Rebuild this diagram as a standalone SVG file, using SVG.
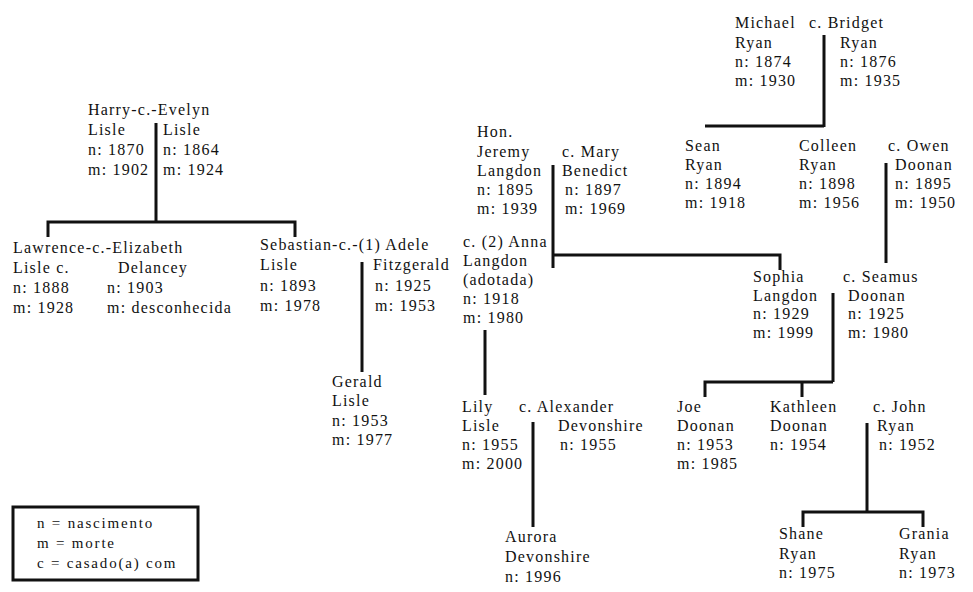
<svg xmlns="http://www.w3.org/2000/svg" width="973" height="592" viewBox="0 0 973 592">
<style>
text{font-family:"Liberation Serif","Times New Roman",serif;font-size:16px;letter-spacing:1.2px;fill:#111}
.lg{font-size:15px;letter-spacing:1.8px}
#connectors path{fill:none;stroke:#111;stroke-width:3}
</style>
<rect width="973" height="592" fill="#fff"/>
<g id="connectors">
<path d="M156 123V222M48 237V222H295V237"/>
<path d="M362 262V372"/>
<path d="M553 165V268M553 255H780V270"/>
<path d="M485 330V395"/>
<path d="M533 422V527"/>
<path d="M824 35V127M705 126H824"/>
<path d="M886 163V263"/>
<path d="M833 293V382M705 397V382H833M802 382V397"/>
<path d="M867 423V512M803 527V512H923V527"/>
</g>
<g id="harry-evelyn">
<text x="88" y="115">Harry-c.-Evelyn</text>
<text x="88" y="135">Lisle</text><text x="88" y="155">n: 1870</text><text x="88" y="175">m: 1902</text>
<text x="163" y="135">Lisle</text><text x="163" y="155">n: 1864</text><text x="163" y="175">m: 1924</text>
</g>
<g id="lawrence-elizabeth">
<text x="13" y="253">Lawrence-c.-Elizabeth</text>
<text x="13" y="273">Lisle c.</text><text x="13" y="293">n: 1888</text><text x="13" y="313">m: 1928</text>
<text x="118" y="273">Delancey</text><text x="107" y="293">n: 1903</text><text x="107" y="313">m: desconhecida</text>
</g>
<g id="sebastian-adele">
<text x="260" y="250">Sebastian-c.-(1) Adele</text>
<text x="260" y="270">Lisle</text><text x="260" y="291">n: 1893</text><text x="260" y="311">m: 1978</text>
<text x="373" y="270">Fitzgerald</text><text x="375" y="291">n: 1925</text><text x="375" y="311">m: 1953</text>
</g>
<g id="gerald">
<text x="332" y="387">Gerald</text><text x="332" y="406">Lisle</text><text x="332" y="426">n: 1953</text><text x="332" y="445">m: 1977</text>
</g>
<g id="jeremy-mary">
<text x="477" y="137">Hon.</text><text x="477" y="157">Jeremy</text><text x="477" y="176">Langdon</text><text x="477" y="195">n: 1895</text><text x="477" y="214">m: 1939</text>
<text x="562" y="157">c. Mary</text><text x="562" y="176">Benedict</text><text x="565" y="195">n: 1897</text><text x="565" y="214">m: 1969</text>
</g>
<g id="anna">
<text x="463" y="247">c. (2) Anna</text><text x="463" y="266">Langdon</text><text x="463" y="285">(adotada)</text><text x="463" y="304">n: 1918</text><text x="463" y="323">m: 1980</text>
</g>
<g id="lily-alexander">
<text x="462" y="412">Lily</text><text x="462" y="431">Lisle</text><text x="462" y="450">n: 1955</text><text x="462" y="469">m: 2000</text>
<text x="519" y="412">c. Alexander</text><text x="558" y="431">Devonshire</text><text x="560" y="450">n: 1955</text>
</g>
<g id="aurora">
<text x="505" y="542">Aurora</text><text x="505" y="562">Devonshire</text><text x="505" y="582">n: 1996</text>
</g>
<g id="michael-bridget">
<text x="735" y="28">Michael</text><text x="735" y="48">Ryan</text><text x="735" y="67">n: 1874</text><text x="735" y="86">m: 1930</text>
<text x="809" y="28">c. Bridget</text><text x="840" y="48">Ryan</text><text x="840" y="67">n: 1876</text><text x="840" y="86">m: 1935</text>
</g>
<g id="sean">
<text x="685" y="151">Sean</text><text x="685" y="170">Ryan</text><text x="685" y="189">n: 1894</text><text x="685" y="208">m: 1918</text>
</g>
<g id="colleen-owen">
<text x="799" y="151">Colleen</text><text x="799" y="170">Ryan</text><text x="799" y="189">n: 1898</text><text x="799" y="208">m: 1956</text>
<text x="888" y="151">c. Owen</text><text x="895" y="170">Doonan</text><text x="895" y="189">n: 1895</text><text x="895" y="208">m: 1950</text>
</g>
<g id="sophia-seamus">
<text x="753" y="282">Sophia</text><text x="753" y="301">Langdon</text><text x="753" y="319">n: 1929</text><text x="753" y="338">m: 1999</text>
<text x="843" y="282">c. Seamus</text><text x="848" y="301">Doonan</text><text x="848" y="319">n: 1925</text><text x="848" y="338">m: 1980</text>
</g>
<g id="joe">
<text x="677" y="412">Joe</text><text x="677" y="431">Doonan</text><text x="677" y="450">n: 1953</text><text x="677" y="469">m: 1985</text>
</g>
<g id="kathleen-john">
<text x="770" y="412">Kathleen</text><text x="770" y="431">Doonan</text><text x="770" y="450">n: 1954</text>
<text x="873" y="412">c. John</text><text x="877" y="431">Ryan</text><text x="879" y="450">n: 1952</text>
</g>
<g id="shane">
<text x="779" y="539">Shane</text><text x="779" y="559">Ryan</text><text x="779" y="578">n: 1975</text>
</g>
<g id="grania">
<text x="899" y="539">Grania</text><text x="899" y="559">Ryan</text><text x="899" y="578">n: 1973</text>
</g>
<g id="legend">
<rect x="13" y="507" width="185" height="73" fill="none" stroke="#111" stroke-width="3"/>
<text class="lg" x="37" y="528">n = nascimento</text>
<text class="lg" x="37" y="548">m = morte</text>
<text class="lg" x="37" y="568">c = casado(a) com</text>
</g>
</svg>
